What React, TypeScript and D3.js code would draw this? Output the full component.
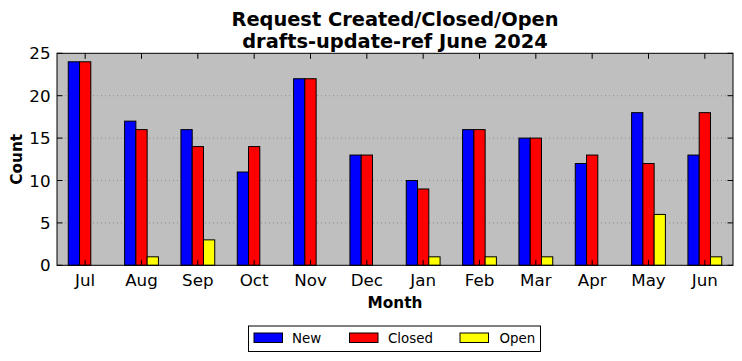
import React from "react";
import * as d3 from "d3";

const months = ["Jul", "Aug", "Sep", "Oct", "Nov", "Dec", "Jan", "Feb", "Mar", "Apr", "May", "Jun"];
const newVals = [24, 17, 16, 11, 22, 13, 10, 16, 15, 12, 18, 13];
const closedVals = [24, 16, 14, 14, 22, 13, 9, 16, 15, 13, 12, 18];
const openVals = [0, 1, 3, 0, 0, 0, 1, 1, 1, 0, 6, 1];
const seriesNames = ["New", "Closed", "Open"];
const seriesColors = ["#0000ff", "#ff0000", "#ffff00"];
const yTicks = [0, 5, 10, 15, 20, 25];

export default function App() {
  const W = 742, H = 361;
  const left = 57, right = 733, top = 53.3, bottom = 265.3;
  const x = d3.scaleLinear().domain([-0.5, months.length - 0.5]).range([left, right]);
  const y = d3.scaleLinear().domain([0, 25]).range([bottom, top]);
  const series = [newVals, closedVals, openVals];
  const bw = 0.2;
  const font = "DejaVu Sans, sans-serif";
  const tickLen = 5.5;

  const legendItems = [
    { px: 254, tx: 292 },
    { px: 349.5, tx: 388 },
    { px: 460, tx: 499.5 },
  ];

  return (
    <svg width={W} height={H} style={{ position: "absolute", left: 0, top: 0, background: "#fff" }} fontFamily={font}>
      <rect x={left} y={top} width={right - left} height={bottom - top} fill="#bfbfbf" />
      {yTicks.filter((t) => t > 0 && t < 25).map((t) => (
        <line key={"g" + t} x1={left} x2={right} y1={y(t)} y2={y(t)} stroke="#7f7f7f" strokeWidth={0.8} strokeDasharray="1,3" />
      ))}
      {series.map((vals, si) =>
        vals.map((v, i) => {
          const x0 = x(i + (si - 1.5) * bw);
          const x1 = x(i + (si - 0.5) * bw);
          return (
            <rect key={si + "-" + i} x={x0} y={y(v)} width={x1 - x0} height={y(0) - y(v)}
              fill={seriesColors[si]} stroke="#000" strokeWidth={1} />
          );
        })
      )}
      {/* ticks */}
      {months.map((m, i) => (
        <g key={"xt" + m}>
          <line x1={x(i)} x2={x(i)} y1={bottom} y2={bottom - tickLen} stroke="#000" />
          <line x1={x(i)} x2={x(i)} y1={top} y2={top + tickLen} stroke="#000" />
          <text x={x(i)} y={285.5} textAnchor="middle" fontSize={16.7} fill="#000">{m}</text>
        </g>
      ))}
      {yTicks.map((t) => (
        <g key={"yt" + t}>
          <line x1={left} x2={left + tickLen} y1={y(t)} y2={y(t)} stroke="#000" />
          <line x1={right} x2={right - tickLen} y1={y(t)} y2={y(t)} stroke="#000" />
          <text x={left - 6.5} y={y(t) + 6} textAnchor="end" fontSize={16.7} fill="#000">{t}</text>
        </g>
      ))}
      <rect x={left} y={top} width={right - left} height={bottom - top} fill="none" stroke="#000" strokeWidth={1} />
      {/* axis labels */}
      <text x={(left + right) / 2} y={308} textAnchor="middle" fontSize={15.3} fontWeight="bold">Month</text>
      <text transform={`translate(22,${(top + bottom) / 2}) rotate(-90)`} textAnchor="middle" fontSize={15.3} fontWeight="bold">Count</text>
      {/* title */}
      <text x={(left + right) / 2} y={26} textAnchor="middle" fontSize={19.4} fontWeight="bold">Request Created/Closed/Open</text>
      <text x={(left + right) / 2} y={48} textAnchor="middle" fontSize={19.4} fontWeight="bold">drafts-update-ref June 2024</text>
      {/* legend */}
      <rect x={248.5} y={326} width={292} height={25.5} fill="#fff" stroke="#000" strokeWidth={1} />
      {seriesNames.map((n, si) => (
        <g key={"lg" + n}>
          <rect x={legendItems[si].px} y={333} width={28.5} height={9.5} fill={seriesColors[si]} stroke="#000" strokeWidth={1} />
          <text x={legendItems[si].tx} y={343} fontSize={13.4}>{n}</text>
        </g>
      ))}
    </svg>
  );
}
